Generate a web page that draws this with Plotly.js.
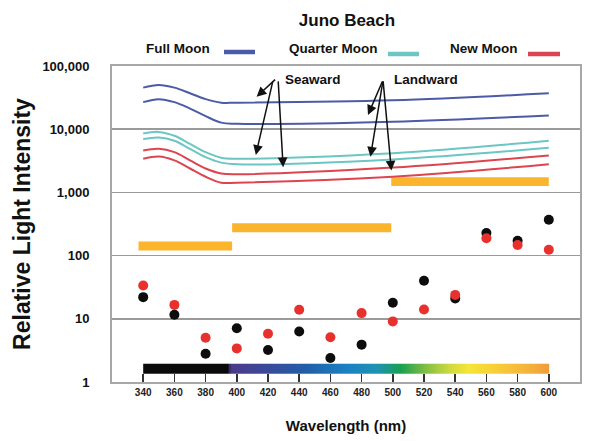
<!DOCTYPE html>
<html>
<head>
<meta charset="utf-8">
<script src="https://cdn.plot.ly/plotly-3.0.1.min.js"></script>
<style>
  html, body { margin: 0; padding: 0; background: #fff; }
  #chart { width: 600px; height: 441px; }
</style>
</head>
<body>
<div id="chart"></div>
<script>
// ---------- data ----------
var curveWavelengths = [340, 350, 360, 370, 380, 390, 400, 500, 600];
var fullSeaward     = [45500, 50100, 45500, 37100, 29900, 26300, 26300, 28600, 37000];
var fullLandward    = [26800, 29900, 26800, 21200, 16100, 12700, 12200, 13100, 16500];
var quarterSeaward  = [8540, 9070, 7870, 5850, 4330, 3540, 3410, 4180, 6580];
var quarterLandward = [6980, 7400, 6580, 4890, 3610, 2960, 2790, 3330, 5070];
var newSeaward      = [4600, 4890, 4330, 3210, 2390, 1995, 1945, 2470, 3850];
var newLandward     = [3410, 3700, 3210, 2390, 1770, 1425, 1425, 1770, 2790];

var dotWavelengths = [340, 360, 380, 400, 420, 440, 460, 480, 500, 520, 540, 560, 580, 600];
var blackDots = [22, 11.6, 2.8, 7.1, 3.2, 6.3, 2.4, 3.9, 17.9, 40, 21, 228, 171, 370];
var redDots   = [33.6, 16.6, 5.0, 3.4, 5.8, 13.9, 5.1, 12.3, 9.1, 14, 23.9, 188, 147, 124];

var bandStart = [337, 397, 499];
var bandEnd   = [397, 499, 600];
var bandLow   = [120, 235, 1268];
var bandHigh  = [167, 326, 1741];

var spectrumStops  = [340, 394, 396, 420, 445, 470, 490, 505, 520, 535, 548, 570, 590, 600];
var spectrumColors = ['#0a0a0a', '#0a0a0a', '#4b3a8c', '#3a4a9a', '#1f5fa8', '#1c80c4', '#1d93b0',
                      '#18a050', '#7cbc44', '#c8d840', '#f5e637', '#f8c838', '#f4ae3c', '#f09a3a'];

var xTickVals = [340, 360, 380, 400, 420, 440, 460, 480, 500, 520, 540, 560, 580, 600];
var yTickVals = [1, 10, 100, 1000, 10000, 100000];
var yTickText = ['1', '10', '100', '1,000', '10,000', '100,000'];

var legendNames  = ['Full Moon', 'Quarter Moon', 'New Moon'];
var seriesColors = ['#4b5ba6', '#6cc6c4', '#dc4450'];

// ---------- geometry helpers ----------
var W = 600, H = 441;
var M = {l: 112, r: 20, t: 66, b: 59};
var PW = W - M.l - M.r, PH = H - M.t - M.b;
function pX(px) { return (px - M.l) / PW; }
function pY(py) { return (H - M.b - py) / PH; }

// ---------- traces ----------
var traces = [];

// orange bands
for (var i = 0; i < bandStart.length; i++) {
  traces.push({
    type: 'scatter', mode: 'lines', fill: 'toself',
    x: [bandStart[i], bandEnd[i], bandEnd[i], bandStart[i], bandStart[i]],
    y: [bandLow[i], bandLow[i], bandHigh[i], bandHigh[i], bandLow[i]],
    line: {width: 0, color: '#fbb52d'}, fillcolor: '#fbb52d',
    hoverinfo: 'skip', showlegend: false
  });
}

var curves = [
  [fullSeaward, 0], [fullLandward, 0],
  [quarterSeaward, 1], [quarterLandward, 1],
  [newSeaward, 2], [newLandward, 2]
];
curves.forEach(function (c) {
  traces.push({
    type: 'scatter', mode: 'lines', x: curveWavelengths, y: c[0],
    line: {color: seriesColors[c[1]], width: 2, shape: 'spline', smoothing: 1},
    hoverinfo: 'skip', showlegend: false
  });
});

traces.push({
  type: 'scatter', mode: 'markers', x: dotWavelengths, y: blackDots,
  marker: {color: '#0d0d0d', size: 10}, hoverinfo: 'skip', showlegend: false
});
traces.push({
  type: 'scatter', mode: 'markers', x: dotWavelengths, y: redDots,
  marker: {color: '#e8302c', size: 10}, hoverinfo: 'skip', showlegend: false
});

// spectrum bar (heatmap on an overlaid linear axis in log-exponent units)
var lo = spectrumStops[0], hi = spectrumStops[spectrumStops.length - 1];
var cs = spectrumStops.map(function (s, k) { return [(s - lo) / (hi - lo), spectrumColors[k]]; });
var edges = [], cells = [];
for (var w = lo; w <= hi; w += 1) { edges.push(w); if (w < hi) cells.push(w + 0.5); }
traces.push({
  type: 'heatmap', xaxis: 'x', yaxis: 'y2',
  x: edges, y: [0.131, 0.289], z: [cells],
  zmin: lo, zmax: hi, colorscale: cs, showscale: false, hoverinfo: 'skip'
});

// ---------- annotations ----------
var bold = {family: 'Liberation Sans, Arial, sans-serif', size: 13.5, color: '#111', weight: 'bold'};
var annotations = [];
var legendTextX = [144, 287, 448];
legendNames.forEach(function (n, k) {
  annotations.push({xref: 'paper', yref: 'paper', x: pX(legendTextX[k]), y: pY(49),
    xanchor: 'left', yanchor: 'middle', text: n, showarrow: false, font: bold});
});
annotations.push({xref: 'x', yref: 'y', x: 429.3, y: 4.779, xanchor: 'left', yanchor: 'middle',
  text: 'Seaward', showarrow: false, font: bold});
annotations.push({xref: 'x', yref: 'y', x: 499.7, y: 4.787, xanchor: 'left', yanchor: 'middle',
  text: 'Landward', showarrow: false, font: bold});

var arrows = [
  [412.7, 4.515, 20, -18.4], [412.2, 3.593, 17.3, -75], [429.7, 3.399, -5, -87.3],
  [484.1, 4.225, 15, -35], [485.7, 3.566, 12.6, -76.7], [499.1, 3.345, -8.4, -90.7]
];
arrows.forEach(function (a) {
  annotations.push({xref: 'x', yref: 'y', x: a[0], y: a[1], ax: a[2], ay: a[3], text: '',
    showarrow: true, arrowhead: 2, arrowsize: 1.3, arrowwidth: 1.5, arrowcolor: '#111', standoff: 0});
});

var legendLineX = [[224, 255], [388, 419], [528, 560]];
var legendLineY = [52, 54, 54];
var shapes = legendLineX.map(function (p, k) {
  return {type: 'line', xref: 'paper', yref: 'paper', x0: pX(p[0]), x1: pX(p[1]),
    y0: pY(legendLineY[k]), y1: pY(legendLineY[k]), line: {color: seriesColors[k], width: 4.5}};
});

var layout = {
  width: W, height: H,
  margin: M,
  paper_bgcolor: '#fff', plot_bgcolor: '#fff',
  font: {family: 'Liberation Sans, Arial, sans-serif', color: '#111'},
  title: {text: 'Juno Beach', x: 347 / W, xanchor: 'center', xref: 'container',
    y: 1 - 20 / H, yanchor: 'middle', yref: 'container',
    font: {size: 17, weight: 'bold', color: '#111'}},
  showlegend: false,
  hovermode: false,
  xaxis: {
    range: [320, 620], showgrid: false, zeroline: false,
    showline: true, mirror: true, linecolor: '#a8a8a8', linewidth: 2,
    ticks: 'inside', ticklen: 8, tickwidth: 1.5, tickcolor: '#333',
    tickvals: xTickVals, ticktext: xTickVals.map(String),
    tickfont: {size: 10, weight: 'bold', color: '#222'},
    title: {text: 'Wavelength (nm)', font: {size: 15, weight: 'bold', color: '#111'}, standoff: 23}
  },
  yaxis: {
    type: 'log', range: [0, 5], showgrid: true, gridcolor: '#9a9a9a', gridwidth: 1.5,
    zeroline: false, showline: true, mirror: true, linecolor: '#a8a8a8', linewidth: 2,
    ticks: 'outside', ticklen: 0, ticklabelstandoff: 18,
    tickvals: yTickVals, ticktext: yTickText,
    tickfont: {size: 13, weight: 'bold', color: '#111'},
    title: {text: 'Relative Light Intensity', font: {size: 23, weight: 'bold', color: '#111'}, standoff: 5}
  },
  yaxis2: {overlaying: 'y', range: [0, 5], visible: false, fixedrange: true},
  annotations: annotations,
  shapes: shapes
};

Plotly.newPlot('chart', traces, layout, {displayModeBar: false, staticPlot: true});
</script>
</body>
</html>
